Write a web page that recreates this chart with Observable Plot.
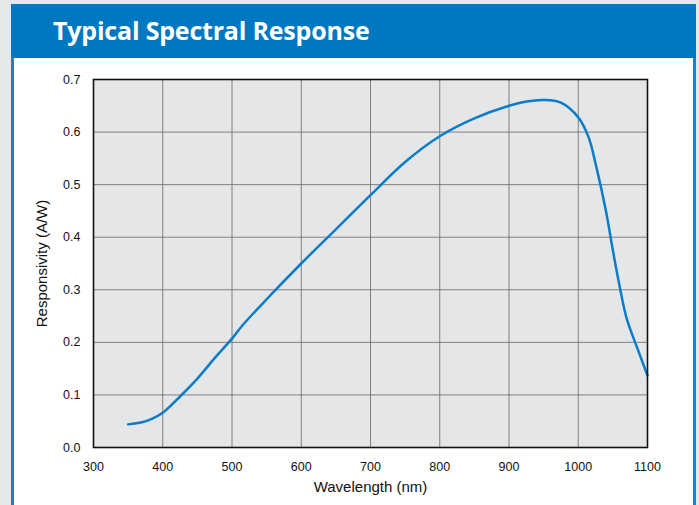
<!DOCTYPE html>
<html>
<head>
<meta charset="utf-8">
<script src="https://cdn.jsdelivr.net/npm/d3@7"></script>
<script src="https://cdn.jsdelivr.net/npm/@observablehq/plot@0.6"></script>
<style>
  html, body { margin: 0; padding: 0; }
  body { width: 699px; height: 505px; background: #e6e9ea; position: relative; overflow: hidden; font-family: "Liberation Sans", Arial, sans-serif; }
  #header { position: absolute; left: 11px; top: 4px; width: 685px; height: 54px; background: #0078c1; }
  #header h1 { margin: 0; position: absolute; left: 42px; top: 10px; color: #fff; font-family: "Open Sans", sans-serif; font-weight: 700; font-size: 25px; letter-spacing: -0.2px; line-height: 32px; }
  #panel { position: absolute; left: 11px; top: 58px; width: 679px; height: 447px; background: #fff; border-left: 3px solid #1a80c9; border-right: 3px solid #1a80c9; }
  #chart { position: absolute; left: 0; top: 0; }
</style>
</head>
<body>
<div id="header"><h1>Typical Spectral Response</h1></div>
<div id="panel"><div id="chart"></div></div>
<script>
const wavelength = [350, 370, 385, 400, 425, 450, 475, 500, 515, 550, 600, 650, 700, 750, 800, 850, 900, 925, 950, 975, 1000, 1015, 1025, 1040, 1050, 1060, 1070, 1085, 1100];
const responsivity = [0.044, 0.048, 0.055, 0.066, 0.097, 0.131, 0.170, 0.207, 0.232, 0.282, 0.350, 0.415, 0.480, 0.543, 0.592, 0.626, 0.650, 0.658, 0.661, 0.656, 0.628, 0.590, 0.540, 0.450, 0.375, 0.305, 0.245, 0.190, 0.137];
const xTicks = [300, 400, 500, 600, 700, 800, 900, 1000, 1100];
const yTicks = [0, 0.1, 0.2, 0.3, 0.4, 0.5, 0.6, 0.7];

const data = wavelength.map((w, i) => ({w, r: responsivity[i]}));

const chart = Plot.plot({
  width: 679,
  height: 447,
  marginLeft: 79,
  marginRight: 46,
  marginTop: 21,
  marginBottom: 58,
  style: {fontFamily: "Liberation Sans, Arial, sans-serif", fontSize: "12.5px", color: "#111", background: "transparent"},
  x: {domain: [300, 1100], ticks: xTicks},
  y: {domain: [0, 0.7], ticks: yTicks},
  marks: [
    Plot.frame({fill: "#e5e6e8"}),
    Plot.gridX(xTicks, {stroke: "#666", strokeOpacity: 1, strokeWidth: 0.8}),
    Plot.gridY(yTicks, {stroke: "#666", strokeOpacity: 1, strokeWidth: 0.8}),
    Plot.axisX(xTicks, {tickSize: 0, tickPadding: 15, tickFormat: d => String(d), label: null, fontSize: 12.5}),
    Plot.axisY(yTicks, {tickSize: 0, tickPadding: 13, tickFormat: d3.format(".1f"), label: null, fontSize: 12.5}),
    Plot.text(["Wavelength (nm)"], {frameAnchor: "bottom", dy: 44, fontSize: 15, fill: "#111"}),
    Plot.text(["Responsivity (A/W)"], {frameAnchor: "left", textAnchor: "middle", dx: -51, rotate: -90, fontSize: 15, fill: "#111"}),
    Plot.line(data, {x: "w", y: "r", curve: "catmull-rom", stroke: "#0a7cc8", strokeWidth: 2.5}),
    Plot.frame({stroke: "#111", strokeWidth: 1.6})
  ]
});
document.getElementById("chart").appendChild(chart);
</script>
</body>
</html>
